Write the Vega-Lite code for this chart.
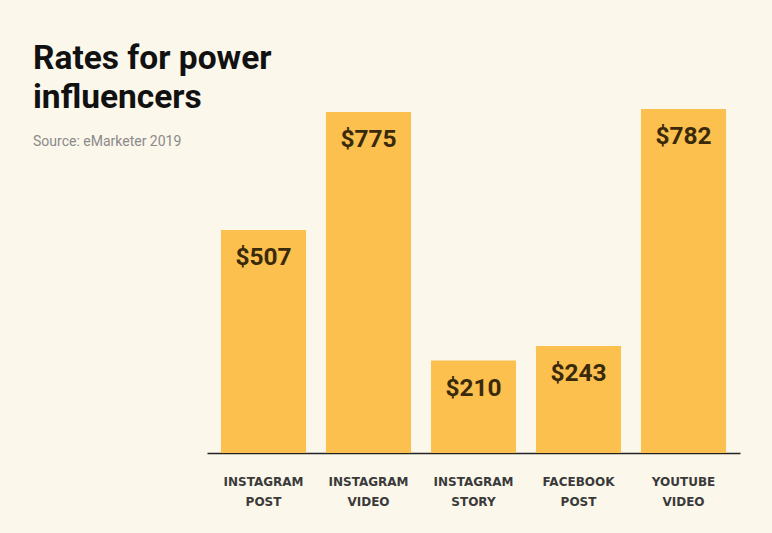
{
  "$schema": "https://vega.github.io/schema/vega-lite/v6.json",
  "width": 533,
  "height": 344,
  "autosize": {"type": "none"},
  "padding": {"left": 207, "top": 109, "right": 32, "bottom": 80},
  "background": "#FBF7EB",
  "config": {
    "view": {"stroke": null},
    "font": "Roboto"
  },
  "title": {
    "text": ["Rates for power", "influencers"],
    "subtitle": "Source: eMarketer 2019",
    "anchor": "start",
    "frame": "group",
    "dx": -174,
    "offset": -41,
    "font": "Roboto",
    "fontSize": 33.5,
    "fontWeight": "bold",
    "lineHeight": 39,
    "color": "#111111",
    "subtitleFont": "Roboto",
    "subtitleFontSize": 14,
    "subtitleColor": "#8a8a8a",
    "subtitlePadding": 20
  },
  "data": {
    "values": [
      {"category": "INSTAGRAM POST", "rate": 507},
      {"category": "INSTAGRAM VIDEO", "rate": 775},
      {"category": "INSTAGRAM STORY", "rate": 210},
      {"category": "FACEBOOK POST", "rate": 243},
      {"category": "YOUTUBE VIDEO", "rate": 782}
    ]
  },
  "encoding": {
    "x": {
      "field": "category",
      "type": "nominal",
      "sort": null,
      "scale": {"paddingInner": 0.19, "paddingOuter": 0.133},
      "axis": {
        "title": null,
        "labelAngle": 0,
        "ticks": false,
        "domainColor": "#222222",
        "domainWidth": 1.5,
        "labelExpr": "split(datum.label, ' ')",
        "labelFont": "DejaVu Sans",
        "labelFontWeight": "bold",
        "labelFontSize": 12,
        "labelColor": "#3a3a3a",
        "labelLineHeight": 20,
        "labelPadding": 23,
        "labelBaseline": "top"
      }
    },
    "y": {
      "field": "rate",
      "type": "quantitative",
      "scale": {"domain": [0, 782], "nice": false, "zero": true},
      "axis": null
    }
  },
  "layer": [
    {"mark": {"type": "bar", "color": "#FCC04F"}},
    {
      "mark": {
        "type": "text",
        "baseline": "alphabetic",
        "dy": 35,
        "font": "Roboto",
        "fontSize": 24.5,
        "fontWeight": "bold",
        "color": "#3A2A0C"
      },
      "encoding": {"text": {"field": "rate", "type": "quantitative", "format": "$d"}}
    }
  ]
}
